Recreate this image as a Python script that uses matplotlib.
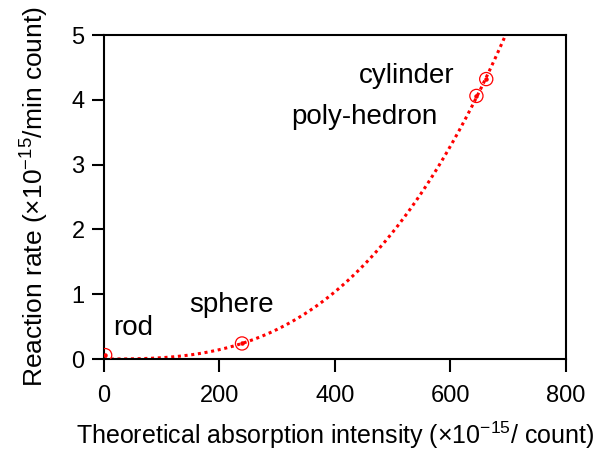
import matplotlib.pyplot as plt
import numpy as np

plt.rcParams['font.family'] = ['Liberation Sans', 'DejaVu Sans']
plt.rcParams['mathtext.fontset'] = 'custom'
plt.rcParams['mathtext.rm'] = 'Liberation Sans'
plt.rcParams['mathtext.it'] = 'Liberation Sans'

shapes = ['rod', 'sphere', 'poly-hedron', 'cylinder']
intensity = [2, 239, 645, 662]
rate = [0.06, 0.24, 4.06, 4.32]

# label positions (data coords, text baseline)
label_xy = {'rod': (15, 0.37), 'sphere': (147, 0.73), 'poly-hedron': (325, 3.63), 'cylinder': (442, 4.26)}

# power-law fit through the non-zero points
x = np.array(intensity[1:], dtype=float)
y = np.array(rate[1:], dtype=float)
b, lna = np.polyfit(np.log(x), np.log(y), 1)
a = np.exp(lna)
xfit = np.linspace(0, 720, 400)
yfit = a * xfit ** b

fig = plt.figure(figsize=(6.03, 4.5), dpi=100)
ax = fig.add_axes([0.1725, 0.2022, 0.766, 0.72])

ax.plot(xfit, yfit, color='red', linestyle=(0, (1, 1.2)), linewidth=2.2)
ax.scatter(intensity, rate, s=90, facecolors='none', edgecolors='red', linewidths=0.9, zorder=3)
ax.scatter(intensity, rate, s=5, color='red', zorder=4)

for name in shapes:
    ax.text(label_xy[name][0], label_xy[name][1], name, fontsize=20, va='baseline', ha='left')

ax.set_xlim(0, 800)
ax.set_ylim(0, 5)
ax.set_xticks([0, 200, 400, 600, 800])
ax.set_yticks([0, 1, 2, 3, 4, 5])
ax.tick_params(axis='both', direction='out', length=9, width=1.5, labelsize=17)
ax.tick_params(axis='x', pad=10)
ax.tick_params(axis='y', pad=5)
for s in ax.spines.values():
    s.set_linewidth(1.5)

ax.set_xlabel(r'Theoretical absorption intensity (×10$^{-15}$/ count)', fontsize=18, labelpad=9)
ax.set_ylabel(r'Reaction rate (×10$^{-15}$/min count)', fontsize=19, labelpad=15)

fig.savefig('out.png', dpi=100)
